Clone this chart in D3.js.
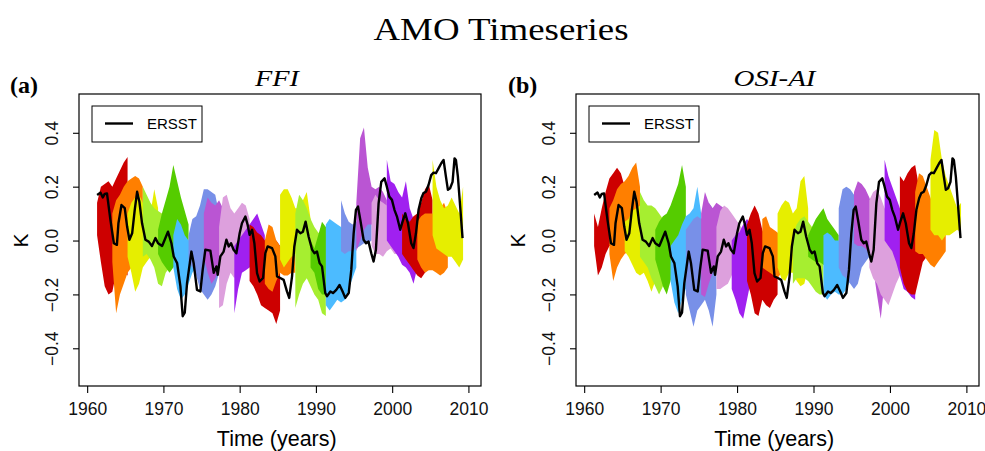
<!DOCTYPE html>
<html><head><meta charset="utf-8">
<script src="https://cdn.jsdelivr.net/npm/d3@7"></script>
<style>body{margin:0;background:#fff} svg{display:block}</style>
</head><body><svg id="chart" width="985" height="451"></svg>
<script>
const bandColors = ["#CD0000","#FF7F00","#E6EE00","#A6EE30","#55CC00","#4CBBFF","#7890E8","#BA55D3","#DDA0DD","#A020F0"];
const bandStarts = [1961.3,1963.3,1965.3,1967.3,1969.3,1971.3,1973.3,1975.3,1977.3,1979.3,1981.3,1983.3,1985.3,1987.3,1989.3,1991.3,1993.3,1995.3,1997.3,1999.3,2001.3,2003.3,2005.3];
const bandOffsets = [0,0.5,1,1.5,2,2.5,3,3.5,4];

const ffiUpper = [
[0.14,0.2,0.21,0.22,0.2,0.23,0.26,0.29,0.31],
[0.1,0.15,0.17,0.2,0.22,0.23,0.24,0.23,0.2],
[0.1,0.14,0.16,0.17,0.14,0.12,0.1,0.19,0.12],
[0.2,0.17,0.14,0.12,0.11,0.1,0.08,0.05,0.03],
[0.04,0.1,0.15,0.2,0.28,0.22,0.16,0.11,0.06],
[0.02,0.08,0.06,0.02,0.0,0.02,0.08,0.11,0.05],
[0.02,0.08,0.09,0.13,0.19,0.19,0.18,0.17,0.1],
[0.1,0.16,0.14,0.13,0.15,0.12,0.1,0.08,0.06],
[0.05,0.16,0.17,0.12,0.1,0.12,0.14,0.13,0.08],
[-0.02,0.0,0.02,0.04,0.06,0.08,0.1,0.06,0.02],
[0.06,0.05,0.03,0.02,0.0,0.0,-0.01,0.0,-0.02],
[0.0,0.06,0.05,0.0,-0.02,-0.03,-0.03,-0.04,-0.05],
[0.17,0.19,0.19,0.16,0.12,0.12,0.15,0.18,0.08],
[0.1,0.17,0.15,0.12,0.08,0.05,0.03,0.02,0.0],
[0.0,-0.03,0.02,0.07,0.05,0.03,0.02,0.01,0.0],
[0.06,0.08,0.07,0.06,0.05,0.04,0.02,0.0,-0.02],
[0.15,0.1,0.07,0.06,0.07,0.1,0.12,0.1,0.08],
[0.14,0.38,0.42,0.27,0.2,0.19,0.2,0.18,0.15],
[0.14,0.17,0.15,0.14,0.13,0.12,0.12,0.1,0.08],
[0.3,0.22,0.21,0.18,0.16,0.22,0.12,0.08,0.05],
[0.1,0.08,0.07,0.09,0.1,0.14,0.19,0.21,0.15],
[0.07,0.09,0.1,0.1,0.1,0.1,0.12,0.14,0.1],
[0.3,0.2,0.15,0.12,0.13,0.16,0.13,0.1,0.2]
];
const ffiLower = [
[0.02,-0.08,-0.17,-0.2,-0.19,-0.12,-0.1,-0.12,-0.13],
[-0.08,-0.27,-0.2,-0.16,-0.12,-0.1,-0.1,-0.08,-0.05],
[-0.06,-0.12,-0.19,-0.16,-0.1,-0.08,-0.06,-0.05,-0.04],
[-0.06,-0.05,-0.07,-0.1,-0.16,-0.17,-0.12,-0.1,-0.08],
[-0.05,-0.08,-0.1,-0.12,-0.1,-0.08,-0.06,-0.04,-0.02],
[-0.1,-0.18,-0.22,-0.2,-0.16,-0.12,-0.1,-0.08,-0.06],
[-0.08,-0.1,-0.13,-0.18,-0.2,-0.22,-0.2,-0.17,-0.12],
[-0.06,-0.12,-0.16,-0.14,-0.1,-0.08,-0.06,-0.05,-0.04],
[-0.25,-0.24,-0.16,-0.12,-0.14,-0.1,-0.06,-0.04,-0.02],
[-0.27,-0.18,-0.12,-0.11,-0.1,-0.09,-0.08,-0.06,-0.05],
[-0.15,-0.17,-0.2,-0.24,-0.25,-0.26,-0.27,-0.31,-0.26],
[-0.16,-0.18,-0.19,-0.15,-0.12,-0.13,-0.13,-0.12,-0.12],
[-0.07,-0.1,-0.08,-0.06,-0.05,-0.04,-0.03,-0.02,-0.02],
[-0.25,-0.2,-0.16,-0.14,-0.17,-0.2,-0.22,-0.27,-0.28],
[-0.1,-0.12,-0.18,-0.2,-0.2,-0.18,-0.16,-0.14,-0.12],
[-0.24,-0.26,-0.24,-0.22,-0.23,-0.22,-0.18,-0.14,-0.1],
[-0.04,-0.05,-0.04,-0.04,-0.03,-0.02,-0.01,-0.01,0.0],
[-0.04,0.0,0.04,0.06,0.06,0.05,0.05,0.05,0.05],
[-0.02,-0.05,-0.05,-0.06,-0.04,-0.03,-0.05,-0.05,-0.04],
[0.0,-0.02,-0.04,-0.06,-0.09,-0.1,-0.12,-0.16,-0.1],
[-0.05,-0.07,-0.09,-0.11,-0.13,-0.14,-0.12,-0.1,-0.08],
[-0.07,-0.1,-0.12,-0.11,-0.11,-0.12,-0.13,-0.12,-0.1],
[0.02,-0.03,-0.04,-0.05,-0.06,-0.06,-0.08,-0.1,-0.07]
];
const osiUpper = [
[0.1,0.05,0.12,0.18,0.23,0.25,0.27,0.25,0.2],
[0.12,0.15,0.19,0.21,0.22,0.24,0.27,0.29,0.2],
[0.07,0.08,0.11,0.12,0.13,0.14,0.12,0.08,0.05],
[0.18,0.15,0.13,0.13,0.12,0.1,0.08,0.06,0.05],
[0.04,0.07,0.09,0.1,0.13,0.17,0.21,0.28,0.2],
[-0.02,0.0,0.02,0.06,0.09,0.1,0.12,0.2,0.1],
[0.04,0.06,0.08,0.09,0.08,0.1,0.14,0.12,0.08],
[0.1,0.18,0.14,0.12,0.14,0.13,0.12,0.1,0.06],
[0.05,0.11,0.13,0.12,0.1,0.08,0.06,0.04,0.02],
[0.0,0.02,0.03,0.06,0.08,0.06,0.04,0.02,0.0],
[0.06,0.1,0.13,0.1,0.04,0.0,-0.02,-0.03,-0.04],
[0.08,0.09,0.05,0.04,0.03,0.0,0.0,-0.01,-0.02],
[0.1,0.13,0.15,0.14,0.1,0.12,0.22,0.24,0.12],
[0.02,0.06,0.08,0.09,0.07,0.05,0.03,0.02,0.0],
[0.02,0.05,0.08,0.1,0.12,0.08,0.06,0.04,0.02],
[0.02,0.03,0.02,0.0,0.0,-0.01,-0.02,-0.03,-0.04],
[0.12,0.19,0.2,0.19,0.17,0.15,0.12,0.08,0.06],
[0.18,0.22,0.21,0.19,0.16,0.12,0.1,0.08,0.06],
[0.15,0.18,0.19,0.16,0.12,0.1,0.08,0.06,0.04],
[0.3,0.24,0.2,0.16,0.12,0.1,0.08,0.06,0.04],
[0.24,0.22,0.25,0.27,0.28,0.2,0.15,0.12,0.1],
[0.18,0.25,0.24,0.2,0.16,0.12,0.1,0.08,0.06],
[0.3,0.41,0.4,0.3,0.24,0.2,0.16,0.12,0.14]
];
const osiLower = [
[-0.02,-0.13,-0.1,-0.05,-0.02,-0.02,0.0,0.02,0.03],
[-0.05,-0.15,-0.1,-0.07,-0.05,-0.04,-0.04,-0.03,-0.02],
[-0.04,-0.06,-0.09,-0.12,-0.13,-0.12,-0.15,-0.19,-0.15],
[-0.06,-0.08,-0.1,-0.14,-0.17,-0.2,-0.17,-0.14,-0.1],
[-0.07,-0.12,-0.17,-0.2,-0.15,-0.1,-0.08,-0.06,-0.05],
[-0.15,-0.23,-0.27,-0.22,-0.18,-0.16,-0.14,-0.12,-0.1],
[-0.2,-0.26,-0.32,-0.26,-0.24,-0.22,-0.26,-0.32,-0.2],
[-0.2,-0.21,-0.16,-0.12,-0.1,-0.1,-0.08,-0.06,-0.05],
[-0.18,-0.18,-0.17,-0.16,-0.13,-0.1,-0.08,-0.06,-0.05],
[-0.18,-0.22,-0.27,-0.29,-0.22,-0.15,-0.12,-0.1,-0.08],
[-0.15,-0.2,-0.27,-0.28,-0.22,-0.24,-0.25,-0.22,-0.2],
[-0.1,-0.11,-0.12,-0.13,-0.14,-0.12,-0.1,-0.1,-0.1],
[-0.1,-0.14,-0.15,-0.12,-0.12,-0.15,-0.17,-0.16,-0.1],
[-0.16,-0.14,-0.14,-0.14,-0.15,-0.17,-0.19,-0.2,-0.2],
[-0.06,-0.07,-0.08,-0.08,-0.09,-0.1,-0.1,-0.09,-0.08],
[-0.2,-0.22,-0.2,-0.19,-0.2,-0.2,-0.18,-0.15,-0.12],
[-0.1,-0.13,-0.14,-0.16,-0.18,-0.16,-0.1,-0.08,-0.06],
[-0.01,-0.02,-0.02,-0.03,-0.05,-0.1,-0.2,-0.29,-0.15],
[-0.1,-0.14,-0.16,-0.2,-0.22,-0.24,-0.2,-0.16,-0.13],
[0.0,-0.02,-0.04,-0.08,-0.13,-0.18,-0.19,-0.21,-0.22],
[-0.1,-0.16,-0.19,-0.2,-0.2,-0.14,-0.08,-0.06,-0.05],
[-0.04,-0.05,-0.05,-0.07,-0.09,-0.1,-0.08,-0.06,-0.04],
[0.04,0.02,0.02,0.0,0.02,0.02,0.03,0.04,0.03]
];

const ersstYear = [1961.31,1961.74,1962.05,1962.3,1962.6,1963.05,1963.5,1963.9,1964.1,1964.5,1964.93,1965.24,1965.54,1965.9,1966.24,1966.55,1966.85,1967.2,1967.64,1968.07,1968.5,1968.95,1969.3,1969.83,1970.17,1970.6,1971.05,1971.35,1971.8,1972.23,1972.53,1972.8,1973.1,1973.67,1973.97,1974.4,1974.85,1975.15,1975.5,1976.16,1976.6,1976.95,1977.12,1977.47,1977.9,1978.26,1978.56,1978.87,1979.2,1979.57,1980.0,1980.3,1980.75,1981.05,1981.3,1981.63,1981.93,1982.28,1982.62,1983.07,1983.37,1983.67,1984.25,1984.68,1984.9,1985.33,1985.77,1986.2,1986.5,1986.87,1987.17,1987.52,1987.96,1988.3,1988.65,1989.04,1989.5,1989.8,1990.14,1990.49,1990.8,1991.23,1991.45,1991.9,1992.24,1992.67,1993.1,1993.5,1993.85,1994.3,1994.64,1994.95,1995.25,1995.52,1995.82,1996.25,1996.57,1996.9,1997.26,1997.56,1997.87,1998.22,1998.57,1999.0,1999.3,1999.62,1999.97,2000.3,2000.63,2001.06,2001.36,2001.72,2002.07,2002.5,2002.8,2003.12,2003.46,2003.82,2004.1,2004.43,2004.77,2005.12,2005.43,2005.74,2006.08,2006.44,2006.74,2007.05,2007.31,2007.6,2007.92,2008.18,2008.36,2008.62,2008.92,2009.23];
const ersstK = [0.169,0.178,0.16,0.173,0.175,0.077,-0.01,-0.016,0.064,0.132,0.12,0.052,0.003,0.027,0.114,0.181,0.144,0.064,0.003,-0.004,-0.02,0.009,-0.01,-0.02,0.003,0.033,-0.01,-0.059,-0.084,-0.17,-0.281,-0.268,-0.158,-0.041,-0.084,-0.183,-0.189,-0.109,-0.034,-0.038,-0.12,-0.096,-0.127,-0.059,-0.041,0.003,-0.022,-0.01,-0.034,-0.047,0.027,0.064,0.089,0.058,0.021,0.04,-0.01,-0.121,-0.152,-0.139,-0.047,-0.022,-0.028,-0.059,-0.133,-0.139,-0.146,-0.189,-0.213,-0.133,-0.022,0.04,0.027,0.033,0.07,0.015,-0.034,-0.047,-0.041,-0.084,-0.096,-0.195,-0.207,-0.189,-0.195,-0.183,-0.165,-0.189,-0.213,-0.195,-0.109,0.027,0.114,0.126,0.077,0.003,-0.01,-0.004,-0.047,-0.078,-0.034,0.138,0.218,0.231,0.2,0.163,0.151,0.114,0.089,0.04,0.07,0.101,0.064,-0.01,-0.028,0.027,0.114,0.157,0.176,0.181,0.206,0.243,0.252,0.25,0.268,0.287,0.299,0.237,0.188,0.194,0.218,0.305,0.299,0.237,0.126,0.009];

const xTicks = [1960,1970,1980,1990,2000,2010];
const yTicks = [-0.4,-0.2,0,0.2,0.4];
const yTickLabels = ["\u22120.4","\u22120.2","0.0","0.2","0.4"];

const panels = [
  {tag:"(a)", title:"FFI", titleW:44, upper:ffiUpper, lower:ffiLower, left:79, right:481, tagX:10},
  {tag:"(b)", title:"OSI-AI", titleW:82, upper:osiUpper, lower:osiLower, left:576, right:979, tagX:508}
];

const svg = d3.select("#chart");
const SANS = "'Liberation Sans', Arial, Helvetica, sans-serif";
const SERIF = "'Liberation Serif', 'Times New Roman', serif";
const TOP = 94, BOTTOM = 386;

svg.append("text").attr("x", 501).attr("y", 40).attr("text-anchor","middle")
  .attr("font-family", SERIF).attr("font-size", 32).attr("textLength", 255)
  .attr("lengthAdjust","spacingAndGlyphs").text("AMO Timeseries");

panels.forEach((p, pi) => {
  const x = d3.scaleLinear().domain([1958.93, 2011.65]).range([p.left, p.right]);
  const y = d3.scaleLinear().domain([-0.54, 0.544]).range([BOTTOM, TOP]);
  const g = svg.append("g");
  const clipId = "clip" + pi;
  g.append("clipPath").attr("id", clipId).append("rect")
    .attr("x", p.left).attr("y", TOP).attr("width", p.right - p.left).attr("height", BOTTOM - TOP);
  const plot = g.append("g").attr("clip-path", `url(#${clipId})`);

  const area = d3.area().x(d => x(d.t)).y0(d => y(d.lo)).y1(d => y(d.hi));
  bandStarts.forEach((s, i) => {
    const data = bandOffsets.map((o, j) => ({t: s + o, lo: p.lower[i][j], hi: p.upper[i][j]}));
    plot.append("path").datum(data).attr("d", area)
      .attr("fill", bandColors[i % bandColors.length]).attr("stroke", "none");
  });

  const line = d3.line().x(d => x(d[0])).y(d => y(d[1]));
  plot.append("path").datum(ersstYear.map((t, k) => [t, ersstK[k]]))
    .attr("d", line).attr("fill", "none").attr("stroke", "#000")
    .attr("stroke-width", 2.4).attr("stroke-linejoin", "round");

  g.append("rect").attr("x", p.left).attr("y", TOP).attr("width", p.right - p.left)
    .attr("height", BOTTOM - TOP).attr("fill", "none").attr("stroke", "#000").attr("stroke-width", 1.2);

  const xa = g.append("g").attr("transform", `translate(0,${BOTTOM})`)
    .call(d3.axisBottom(x).tickValues(xTicks).tickSize(7).tickFormat(d3.format("d")));
  xa.select(".domain").remove();
  xa.selectAll("line").attr("stroke", "#000").attr("stroke-width", 1.1);
  xa.selectAll("text").attr("y", 29).attr("dy", 0).attr("font-size", 17.5)
    .attr("font-family", SANS).attr("fill", "#111");

  const ya = g.append("g").attr("transform", `translate(${p.left},0)`)
    .call(d3.axisLeft(y).tickValues(yTicks).tickSize(6).tickFormat((d, k) => yTickLabels[k]));
  ya.select(".domain").remove();
  ya.selectAll("line").attr("stroke", "#000").attr("stroke-width", 1.1);
  ya.selectAll("text").attr("transform", "rotate(-90)").attr("x", 0).attr("y", -21)
    .attr("dy", 0).attr("text-anchor", "middle").attr("font-size", 17.5)
    .attr("font-family", SANS).attr("fill", "#111");

  g.append("text").attr("transform", `translate(${p.left - 51},${y(0)}) rotate(-90)`)
    .attr("text-anchor", "middle").attr("font-family", SANS).attr("font-size", 21).text("K");
  g.append("text").attr("x", (x(1960) + x(2010)) / 2 - 1).attr("y", 446).attr("text-anchor", "middle")
    .attr("font-family", SANS).attr("font-size", 21.5).text("Time (years)");

  g.append("text").attr("x", (p.left + p.right) / 2 - 3).attr("y", 86).attr("text-anchor", "middle")
    .attr("font-family", SERIF).attr("font-style", "italic").attr("font-size", 24)
    .attr("textLength", p.titleW).attr("lengthAdjust", "spacingAndGlyphs").text(p.title);
  g.append("text").attr("x", p.tagX).attr("y", 93)
    .attr("font-family", SERIF).attr("font-weight", "bold").attr("font-size", 24).text(p.tag);

  const lg = g.append("g").attr("transform", `translate(${p.left + 13},106)`);
  lg.append("rect").attr("width", 110).attr("height", 36).attr("fill", "#fff")
    .attr("stroke", "#000").attr("stroke-width", 1);
  lg.append("line").attr("x1", 13).attr("x2", 41).attr("y1", 17.5).attr("y2", 17.5)
    .attr("stroke", "#000").attr("stroke-width", 2.4);
  lg.append("text").attr("x", 55).attr("y", 23).attr("font-family", SANS)
    .attr("font-size", 15).text("ERSST");
});
</script>
</body></html>
